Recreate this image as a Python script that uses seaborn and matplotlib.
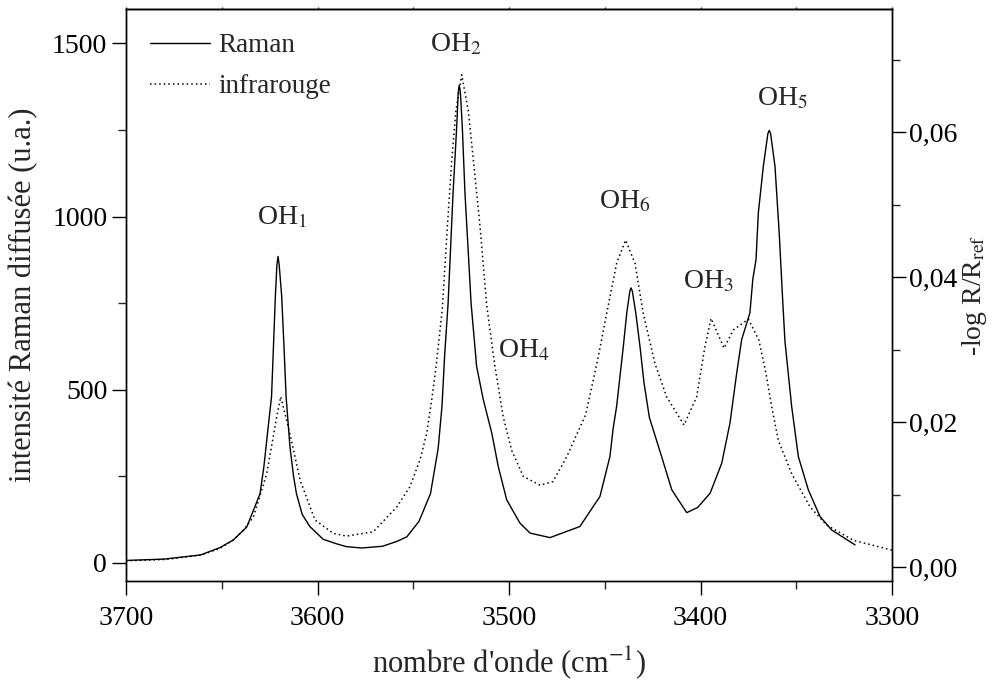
import numpy as np
import pandas as pd
import matplotlib
matplotlib.use('Agg')
import matplotlib.pyplot as plt
from matplotlib.ticker import MultipleLocator, FuncFormatter, NullFormatter
import seaborn as sns

# données (nombre d'onde en cm-1)
raman_x = [3700, 3680, 3661, 3651, 3644, 3637, 3632, 3630, 3628, 3626, 3624, 3623, 3622,
           3621.2, 3620.6, 3620.0, 3618.7, 3617.5, 3616.4, 3614.4, 3612.5, 3611, 3608, 3604,
           3597, 3590, 3585, 3577, 3566, 3558.6, 3553.4, 3547, 3541, 3537, 3535, 3533.6,
           3531.8, 3529.2, 3527.3, 3526.5, 3526.0, 3525.4, 3524.4, 3523.0, 3519.8, 3516.9,
           3513.4, 3509.0, 3505.6, 3501.2, 3494.3, 3489.0, 3478.6, 3463, 3452.5, 3447.3,
           3445.6, 3443.8, 3440.3, 3438.5, 3436.9, 3436.3, 3435.6, 3433.8, 3431.6, 3429.5,
           3426.7, 3420.3, 3415.0, 3407.2, 3401.5, 3395.0, 3388.9, 3384.6, 3381.1, 3378.5,
           3374.2, 3372.7, 3371.0, 3369.8, 3367.2, 3364.8, 3364.1, 3363.4, 3361.1, 3358.9,
           3357.1, 3355.9, 3352.4, 3348.9, 3343.7, 3337.6, 3331.5, 3319.3]
raman_y = [7, 11, 23, 44, 66, 103, 172, 200, 278, 380, 480, 625, 770,
           860, 885, 860, 770, 625, 480, 336, 250, 200, 140, 105,
           68, 55, 47, 43, 48, 62, 75, 120, 200, 330, 452, 600,
           750, 1069, 1261, 1360, 1379, 1360, 1261, 1069, 750, 567,
           471, 375, 278, 182, 115, 86, 73, 105, 192, 307,
           389, 452, 625, 722, 785, 794, 785, 722, 625, 520,
           420, 307, 211, 145, 160, 201, 288, 404, 548, 645,
           722, 818, 876, 1011, 1145, 1240, 1249, 1240, 1145, 953,
           760, 640, 452, 307, 211, 134, 95, 52]

ir_x = [3700, 3679, 3661, 3651, 3644, 3638.7, 3633.5, 3626.5, 3621.3, 3619.2, 3614.4,
        3609.1, 3601.3, 3591.7, 3584.8, 3570.9, 3558.6, 3551.7, 3546.5, 3543.0, 3540.4,
        3538.1, 3534.8, 3532.2, 3529.9, 3527.7, 3524.7, 3521.3, 3518.6, 3515.1, 3511.6,
        3507.3, 3503.0, 3498.6, 3492.5, 3483.8, 3477.0, 3469.9, 3460, 3456.0, 3453.4,
        3449.0, 3443.8, 3439.1, 3434.2, 3429.9, 3423.8, 3417.7, 3408.6, 3402.0, 3397.7,
        3394.5, 3387.7, 3382.9, 3375.0, 3369.5, 3365.8, 3362.8, 3359.4, 3352.4, 3342.8,
        3334.1, 3320.2, 3300]
ir_y = [0.00087, 0.00106, 0.00166, 0.00258, 0.00372, 0.0051, 0.0069, 0.0129, 0.0207, 0.0235, 0.0184,
        0.0120, 0.0065, 0.00465, 0.00428, 0.00487, 0.0083, 0.0111, 0.0148, 0.0184, 0.0230,
        0.0276, 0.0357, 0.0469, 0.0561, 0.0630, 0.0679, 0.0630, 0.0561, 0.0469, 0.0360,
        0.0276, 0.0207, 0.0161, 0.0125, 0.0113, 0.0118, 0.0152, 0.0210, 0.0258, 0.0290,
        0.0350, 0.0419, 0.0451, 0.0419, 0.0350, 0.0281, 0.0235, 0.0196, 0.0235, 0.0304,
        0.0343, 0.0302, 0.0327, 0.0342, 0.0313, 0.0267, 0.0221, 0.0175, 0.0129, 0.0083,
        0.0058, 0.0037, 0.00234]

# étiquettes des bandes : (texte, nombre d'onde, intensité Raman)
band_labels = ['OH$_1$', 'OH$_2$', 'OH$_4$', 'OH$_6$', 'OH$_3$', 'OH$_5$']
band_x = [3618.5, 3528, 3492, 3439.4, 3396, 3357.4]
band_y = [997, 1497, 613, 1043, 812, 1341]

df_raman = pd.DataFrame({'x': raman_x, 'y': raman_y})
df_ir = pd.DataFrame({'x': ir_x, 'y': ir_y})

sns.set_style('ticks')
plt.rcParams['font.family'] = ['Liberation Serif', 'DejaVu Serif']
plt.rcParams['mathtext.fontset'] = 'stix'
plt.rcParams['axes.linewidth'] = 1.0

fig = plt.figure(figsize=(10, 6.81), dpi=100)
ax = fig.add_axes([0.126, 0.147, 0.766, 0.84])
ax2 = ax.twinx()

sns.lineplot(data=df_raman, x='x', y='y', ax=ax, color='black', lw=1.0, sort=False, legend=False)
sns.lineplot(data=df_ir, x='x', y='y', ax=ax2, color='black', lw=1.1, sort=False, legend=False,
             linestyle=(0, (1, 2)))

ax.set_xlim(3700, 3300)
ax.set_ylim(-52, 1600)
ax2.set_ylim(-0.0019, 0.077)

ax.xaxis.set_major_locator(MultipleLocator(100))
ax.xaxis.set_minor_locator(MultipleLocator(50))
ax.yaxis.set_major_locator(MultipleLocator(500))
ax.yaxis.set_minor_locator(MultipleLocator(250))
ax2.yaxis.set_major_locator(MultipleLocator(0.02))
ax2.yaxis.set_minor_locator(MultipleLocator(0.01))
ax2.yaxis.set_major_formatter(FuncFormatter(lambda v, p: f'{v:.2f}'.replace('.', ',')))

for a in (ax, ax2):
    a.tick_params(which='major', direction='out', length=10, width=1, labelsize=20, colors='black')
    a.tick_params(which='minor', direction='out', length=6, width=1)
    for s in a.spines.values():
        s.set_visible(True)
        s.set_color('black')
ax.tick_params(axis='x', which='major', pad=8)
ax2.tick_params(axis='y', which='major', pad=2)

# petites graduations sur le bord supérieur
top = ax.secondary_xaxis('top')
top.xaxis.set_major_locator(MultipleLocator(50))
top.xaxis.set_major_formatter(NullFormatter())
top.tick_params(which='major', direction='out', length=1.5, width=1)

ax.set_xlabel("nombre d'onde (cm$^{-1}$)", fontsize=22, labelpad=10)
ax.set_ylabel('intensité Raman diffusée (u.a.)', fontsize=22, labelpad=10)
ax2.set_ylabel(r'-log R/R$_{\mathrm{ref}}$', fontsize=20, labelpad=2)

for lab, bx, by in zip(band_labels, band_x, band_y):
    ax.text(bx, by, lab, fontsize=20, ha='center', va='center')

lines = ax.get_lines() + ax2.get_lines()
ax.legend(lines, ['Raman', 'infrarouge'], loc='upper left', frameon=False, fontsize=19.5,
          handlelength=2.2, handletextpad=0.3, borderaxespad=0.5, labelspacing=0.6)

fig.savefig('out.png', dpi=100)
